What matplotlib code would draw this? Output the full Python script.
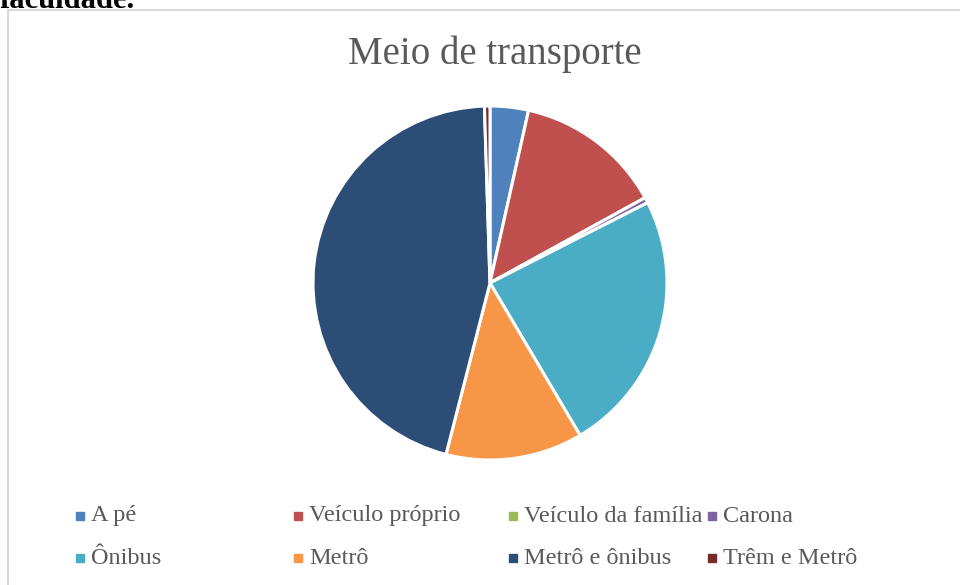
import matplotlib
matplotlib.use("Agg")
import matplotlib.pyplot as plt
from matplotlib.patches import Rectangle

# respostas por meio de transporte
labels = ["A pé", "Veículo próprio", "Veículo da família", "Carona",
          "Ônibus", "Metrô", "Metrô e ônibus", "Trêm e Metrô"]
counts = [7, 27, 0, 1, 48, 25, 91, 1]
colors = ["#4F81BD", "#C0504D", "#9BBB59", "#8064A2",
          "#4BACC6", "#F79646", "#2C4D75", "#772C2A"]

plt.rcParams['font.family'] = ['Liberation Serif', 'DejaVu Serif']

fig = plt.figure(figsize=(9.6, 5.85), dpi=100)
W, H = 960, 585

# moldura do grafico (cortada a direita e embaixo)
fig.patches.append(Rectangle((8 / W, -0.1), 1.1, 1 - 10 / H + 0.1,
                             transform=fig.transFigure, fill=False,
                             edgecolor="#D9D9D9", linewidth=1.5))

# resto do texto da pagina, cortado no topo
fig.text(0, (H - 8) / H, "faculdade.", fontsize=22, fontweight="bold",
         color="black", ha="left", va="baseline")

fig.text(495 / W, (H - 64) / H, "Meio de transporte", fontsize=28,
         color="#595959", ha="center", va="baseline")

cx, cy, r = 490, 283, 177
ax = fig.add_axes([(cx - r) / W, (H - cy - r) / H, 2 * r / W, 2 * r / H])
ax.pie(counts, colors=colors, startangle=90, counterclock=False,
       wedgeprops=dict(edgecolor="white", linewidth=2.2))
ax.set_xlim(-1, 1)
ax.set_ylim(-1, 1)
ax.set_aspect("equal")
ax.axis("off")

# legenda em 4 colunas
col_x = [80, 298, 513, 712]
row_y = [516, 558]
for i, (lab, c) in enumerate(zip(labels, colors)):
    x = col_x[i % 4]
    y = row_y[i // 4]
    fig.patches.append(Rectangle(((x - 4) / W, (H - y - 4) / H), 8 / W, 8 / H,
                                 transform=fig.transFigure, color=c))
    fig.text((x + 11) / W, (H - y) / H, lab, fontsize=17.5, color="#595959",
             ha="left", va="center")

fig.savefig("out.png", dpi=100)
